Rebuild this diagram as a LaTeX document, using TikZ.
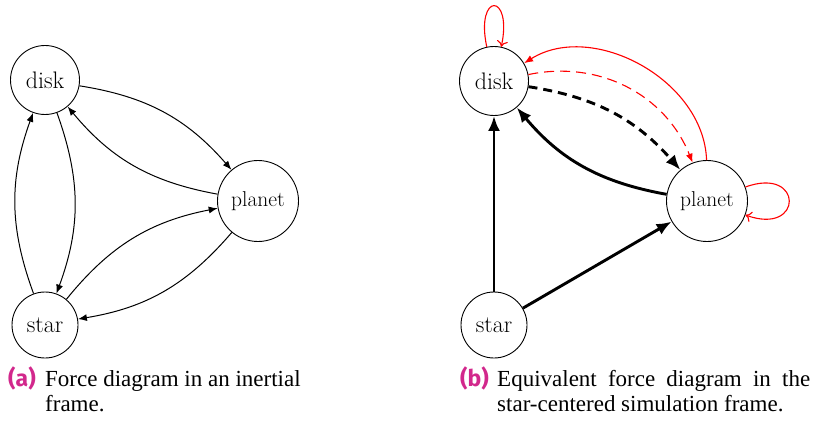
\documentclass[tikz,border=0pt]{standalone}
\usepackage{fontspec}
\newfontfamily\capfont{Liberation Serif}
\newfontfamily\labfont{Fira Sans}
\usetikzlibrary{arrows.meta}
\definecolor{capmag}{RGB}{210,40,140}
\begin{document}
\begin{tikzpicture}[x=1pt,y=1pt,
  body/.style={circle,draw,line width=0.9pt,inner sep=0pt,font=\fontsize{23.9}{28}\selectfont},
  bigbody/.style={body,minimum size=69pt},
  starbody/.style={body,minimum size=66pt},
  planetbody/.style={body,minimum size=81pt,font=\fontsize{21.5}{26}\selectfont},
  thinarrow/.style={line width=1pt,-{Latex[length=9pt,width=7pt]}},
  thickarrow/.style={line width=2.9pt,-{Latex[length=15pt,width=12pt]}},
  redarrow/.style={red,line width=1.1pt,-{Latex[length=9pt,width=7pt]}},
  redloop/.style={red,line width=1.1pt,-{Computer Modern Rightarrow[length=6pt,width=11pt]}},
  caplab/.style={anchor=base west,inner sep=0pt,text=capmag,font=\labfont\bfseries\fontsize{23}{27}\selectfont},
  captext/.style={anchor=base west,inner sep=0pt,font=\capfont\fontsize{23}{27}\selectfont}
]
\useasboundingbox (0,0) rectangle (813,421);

% (a) inertial frame
\node[bigbody] (adisk) at (45,341) {disk};
\node[planetbody] (aplanet) at (258,220) {planet};
\node[starbody] (astar) at (45,96) {star};
\draw[thinarrow] (adisk) to[bend left=20] (aplanet);
\draw[thinarrow] (aplanet) to[bend left=20] (adisk);
\draw[thinarrow] (adisk) to[bend left=20] (astar);
\draw[thinarrow] (astar) to[bend left=20] (adisk);
\draw[thinarrow] (astar) to[bend left=20] (aplanet);
\draw[thinarrow] (aplanet) to[bend left=20] (astar);

% (b) star-centered frame
\node[bigbody] (bdisk) at (494,340) {disk};
\node[planetbody] (bplanet) at (707,220) {planet};
\node[starbody] (bstar) at (494,96) {star};
\draw[thickarrow] (bstar) -- (bdisk);
\draw[thickarrow] (bstar) -- (bplanet);
\draw[thickarrow] (bplanet) to[bend left=20] (bdisk);
\draw[thickarrow,dash pattern=on 9pt off 6pt] (bdisk) to[bend left=20] (bplanet);
\draw[redarrow,dash pattern=on 10pt off 6pt] (bdisk) to[bend left=40] (bplanet);
\draw[redarrow] (bplanet) to[bend right=60] (bdisk);
\draw[redloop] (bdisk) to[out=102,in=78,min distance=56pt] (bdisk);
\draw[redloop] (bplanet) to[out=20,in=-20,min distance=62pt] (bplanet);

% captions
\node[caplab] (labA) at (8,35) {(a)};
\node[captext] (capA1) at (45,35) {Force diagram in an inertial};
\node[captext] (capA2) at (45,10) {frame.};
\node[caplab] (labB) at (460,35) {(b)};
\node[captext] (capB1) at (497,35) {\makebox[313pt][s]{Equivalent force diagram in the}};
\node[captext] (capB2) at (497,10) {star-centered simulation frame.};
\end{tikzpicture}
\end{document}
